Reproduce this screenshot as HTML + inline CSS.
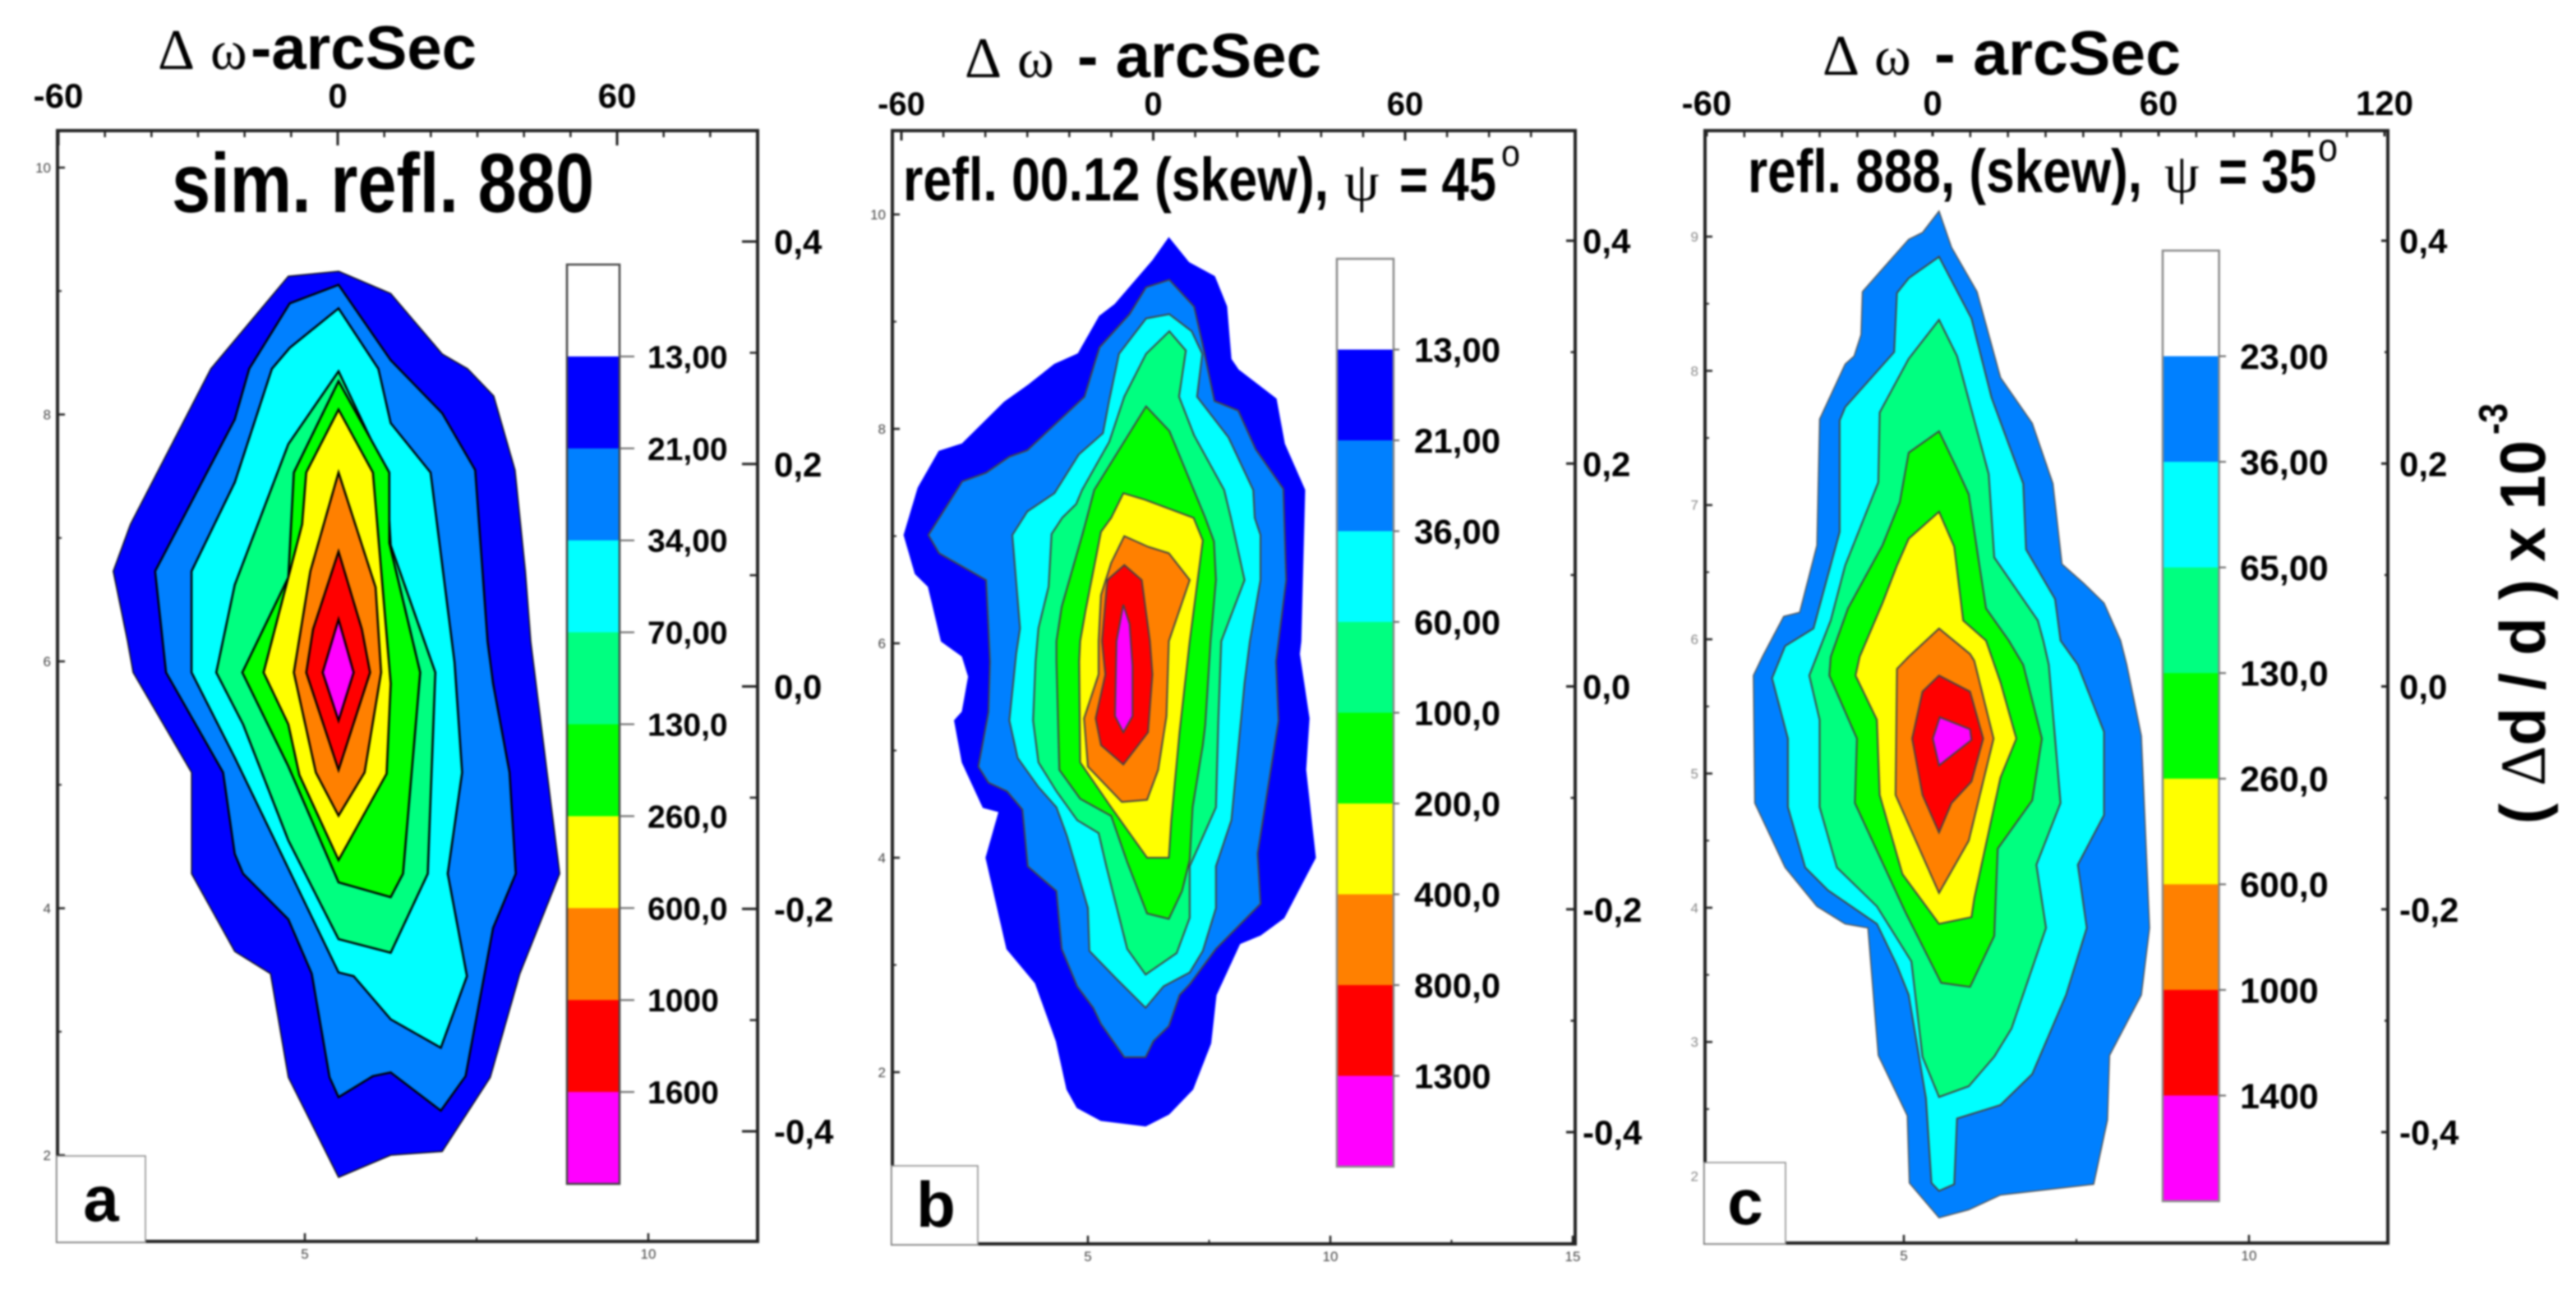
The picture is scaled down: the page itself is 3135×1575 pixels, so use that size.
<!DOCTYPE html>
<html lang="en">
<head>
<meta charset="utf-8">
<title>Reciprocal space contour maps</title>
<style>
  html, body { margin: 0; padding: 0; background: #ffffff; }
  #figure { display: block; width: 3135px; height: 1575px; filter: blur(1px); }
  .sans { font-family: "Liberation Sans", sans-serif; font-weight: bold; fill: #000; }
  .serif { font-family: "Liberation Serif", serif; font-weight: normal; fill: #000; }
</style>
</head>
<body>
<svg id="figure" xmlns="http://www.w3.org/2000/svg" width="3135" height="1575" viewBox="0 0 3135 1575">
  <rect x="0" y="0" width="3135" height="1575" fill="#ffffff"/>
  <g id="panel-a"></g>
  <g id="panel-b"></g>
  <g id="panel-c"></g>

  <g>
    <text class="serif" x="192" y="84" font-size="70">Δ</text>
    <text class="serif" x="256" y="84" font-size="68">ω</text>
    <text class="sans" x="305" y="84" font-size="75" textLength="275" lengthAdjust="spacingAndGlyphs">-arcSec</text>
  </g>
  <text class="sans" x="209" y="258" font-size="102" textLength="514" lengthAdjust="spacingAndGlyphs">sim. refl. 880</text>

  <g>
    <text class="serif" x="1174" y="94" font-size="70">Δ</text>
    <text class="serif" x="1238" y="94" font-size="68">ω</text>
    <text class="sans" x="1311" y="94" font-size="76" textLength="297" lengthAdjust="spacingAndGlyphs">- arcSec</text>
  </g>
  <g>
    <text class="sans" x="1099" y="244" font-size="74" textLength="518" lengthAdjust="spacingAndGlyphs">refl. 00.12 (skew),</text>
    <text class="serif" x="1636" y="244" font-size="68">ψ</text>
    <text class="sans" x="1703" y="244" font-size="74" textLength="118" lengthAdjust="spacingAndGlyphs">= 45</text>
    <text class="sans" style="font-weight:normal" x="1827" y="202" font-size="45" textLength="23" lengthAdjust="spacingAndGlyphs">o</text>
  </g>

  <g>
    <text class="serif" x="2218" y="91" font-size="70">Δ</text>
    <text class="serif" x="2281" y="91" font-size="68">ω</text>
    <text class="sans" x="2354" y="91" font-size="76" textLength="300" lengthAdjust="spacingAndGlyphs">- arcSec</text>
  </g>
  <g>
    <text class="sans" x="2127" y="234" font-size="74" textLength="480" lengthAdjust="spacingAndGlyphs">refl. 888, (skew),</text>
    <text class="serif" x="2634" y="234" font-size="68">ψ</text>
    <text class="sans" x="2700" y="234" font-size="74" textLength="119" lengthAdjust="spacingAndGlyphs">= 35</text>
    <text class="sans" style="font-weight:normal" x="2821" y="196" font-size="48" textLength="24" lengthAdjust="spacingAndGlyphs">o</text>
  </g>

  <g>
    <text class="sans" transform="translate(3097,1003) rotate(-90)" font-size="78" textLength="467" lengthAdjust="spacingAndGlyphs">( <tspan font-family="Liberation Serif, serif" font-weight="normal">Δ</tspan>d / d ) x 10</text>
    <text class="sans" transform="translate(3051,529) rotate(-90)" font-size="49" textLength="38" lengthAdjust="spacingAndGlyphs">-3</text>
  </g>
</svg>

<script>
// Shared colour order for contour bands, lowest level first
const bandFills = ['#0000ff', '#0080ff', '#00ffff', '#00ff80', '#00ff00', '#ffff00', '#ff8000', '#ff0000', '#ff00ff'];

// ---------- Panel a: contour outlines as [omega-axis value, left-axis value] ----------
const panelABand13 = [[5.49,9.16],[4.76,9.12],[3.63,8.37],[2.46,7.11],[2.21,6.73],[2.42,6.16],[2.50,5.91],[3.35,5.10],[3.35,4.28],[3.98,3.65],[4.50,3.47],[4.76,2.63],[5.49,1.82],[6.25,2.00],[7.00,2.03],[7.70,2.63],[8.13,3.47],[8.71,4.28],[8.29,6.16],[8.21,6.73],[8.06,7.55],[7.75,8.15],[7.37,8.37],[7.00,8.49],[6.25,8.98]];
const panelABand21 = [[5.49,9.05],[4.78,8.90],[4.19,8.37],[3.98,7.96],[2.82,6.73],[2.98,5.91],[3.81,5.10],[3.98,4.44],[4.10,4.28],[4.76,3.91],[5.10,3.47],[5.36,2.63],[5.49,2.47],[5.99,2.64],[6.25,2.67],[6.98,2.36],[7.34,2.64],[7.74,3.84],[8.07,4.28],[7.98,5.10],[7.74,5.82],[7.66,6.16],[7.48,7.55],[7.00,8.01],[6.25,8.44]];
const panelABand34 = [[5.49,8.86],[4.78,8.54],[4.52,8.37],[3.98,7.45],[3.35,6.73],[3.35,5.91],[3.98,5.22],[5.49,3.48],[5.71,3.45],[6.25,3.10],[6.98,2.87],[7.36,3.45],[7.08,4.28],[7.29,5.10],[7.18,5.99],[6.83,7.53],[6.25,7.93],[6.07,8.37]];
const panelABand70 = [[5.49,8.35],[4.76,7.76],[3.98,6.62],[3.71,5.91],[4.10,5.49],[4.76,4.55],[5.49,3.75],[6.25,3.64],[6.79,4.28],[6.90,5.91],[6.25,6.94],[6.19,7.53]];
const panelABand130 = [[5.49,8.27],[4.84,7.53],[4.76,6.68],[4.09,5.91],[4.76,5.15],[5.49,4.21],[6.25,4.09],[6.43,4.28],[6.68,5.91],[6.23,6.96],[6.23,7.53]];
const panelABand260 = [[5.49,8.04],[5.02,7.53],[4.96,7.11],[4.40,5.91],[4.76,5.49],[4.92,5.08],[5.49,4.39],[6.19,5.09],[6.25,5.82],[5.99,7.53]];
const panelABand600 = [[5.49,7.53],[5.08,6.73],[4.84,5.91],[5.16,5.10],[5.49,4.75],[5.87,5.10],[6.11,5.91],[6.03,6.60]];
const panelABand1000 = [[5.49,6.89],[5.12,6.26],[5.02,5.91],[5.49,5.12],[5.95,5.91],[5.83,6.26]];
const panelABand1600 = [[5.49,6.34],[5.26,5.91],[5.49,5.52],[5.71,5.91]];
const panelABandList = [panelABand13, panelABand21, panelABand34, panelABand70, panelABand130, panelABand260, panelABand600, panelABand1000, panelABand1600];
const panelALevelLabels = ['13,00', '21,00', '34,00', '70,00', '130,0', '260,0', '600,0', '1000', '1600'];

// ---------- Panel b ----------
const panelBBand13 = [[6.67,9.78],[6.34,9.57],[5.56,9.16],[5.24,9.05],[4.80,8.70],[4.31,8.60],[3.75,8.40],[3.28,8.25],[2.41,7.86],[1.93,7.79],[1.50,7.45],[1.21,7.01],[1.44,6.65],[1.71,6.53],[1.98,6.02],[2.41,5.88],[2.54,5.69],[2.41,5.36],[2.25,5.28],[2.41,4.89],[2.84,4.47],[3.17,4.43],[2.90,4.00],[3.33,3.15],[3.92,2.83],[4.35,2.29],[4.57,1.84],[4.78,1.67],[5.27,1.55],[6.19,1.50],[6.67,1.61],[7.16,1.84],[7.53,2.27],[7.64,2.72],[8.13,3.20],[8.56,3.28],[9.04,3.44],[9.47,3.81],[9.69,4.00],[9.49,4.82],[9.56,5.30],[9.36,5.90],[9.39,6.02],[9.47,7.43],[9.05,7.86],[8.88,8.28],[8.10,8.55],[7.95,8.65],[7.86,9.14],[7.61,9.42],[7.08,9.55]];
const panelBBand21 = [[6.68,9.39],[6.20,9.32],[5.86,9.07],[5.24,8.76],[5.13,8.60],[4.93,8.30],[3.75,7.80],[3.38,7.74],[2.90,7.59],[2.41,7.51],[1.71,7.01],[1.93,6.84],[2.90,6.59],[2.95,6.14],[2.98,5.83],[2.95,5.36],[2.74,4.85],[2.95,4.70],[3.33,4.62],[3.65,4.45],[3.76,3.92],[4.35,3.69],[4.46,3.15],[4.78,2.80],[5.11,2.60],[5.27,2.45],[5.75,2.14],[6.19,2.14],[6.35,2.29],[6.67,2.43],[6.89,2.72],[7.10,2.82],[7.64,3.15],[8.56,3.57],[8.50,4.04],[8.93,5.28],[8.88,5.83],[9.09,6.59],[9.03,7.44],[8.46,7.81],[8.10,8.17],[7.61,8.26],[7.36,8.80],[7.19,9.14]];
const panelBBand36 = [[6.68,9.07],[6.20,9.03],[5.64,8.70],[5.44,8.27],[5.31,7.96],[4.81,7.76],[4.31,7.40],[3.75,7.23],[3.44,7.01],[3.60,6.14],[3.52,5.90],[3.38,5.28],[3.55,4.93],[3.98,4.66],[4.35,4.47],[4.57,4.20],[5.00,3.53],[5.03,3.13],[5.59,2.87],[6.19,2.60],[6.56,2.80],[7.10,2.93],[7.37,3.13],[7.64,3.53],[7.64,3.92],[7.96,4.35],[8.23,5.63],[8.34,6.02],[8.56,6.59],[8.56,7.01],[8.44,7.17],[8.41,7.43],[7.90,7.92],[7.25,8.30],[7.36,8.70],[7.14,8.91]];
const panelBBand60 = [[6.68,8.91],[6.20,8.70],[5.75,8.30],[5.44,7.88],[4.88,7.43],[4.76,7.30],[4.47,7.17],[4.25,7.02],[4.19,6.53],[3.98,6.14],[3.92,5.83],[3.87,5.28],[3.98,4.89],[4.35,4.62],[4.78,4.35],[5.22,4.23],[5.38,3.92],[5.81,3.15],[6.19,2.91],[6.83,3.11],[7.10,3.44],[7.10,3.92],[7.64,4.47],[7.69,5.28],[7.75,6.02],[8.23,6.59],[7.95,7.17],[7.81,7.43],[7.19,7.94],[6.88,8.30],[7.02,8.73]];
const panelBBand100 = [[6.20,8.21],[5.13,7.43],[4.98,7.17],[4.89,7.02],[4.46,6.34],[4.35,6.02],[4.35,5.83],[4.41,4.82],[4.84,4.55],[5.48,4.39],[5.81,3.96],[6.22,3.48],[6.67,3.43],[6.94,3.69],[7.10,3.98],[7.16,4.47],[7.37,5.05],[7.42,5.24],[7.53,6.02],[7.64,6.59],[7.60,6.95],[7.42,7.17],[6.68,7.98]];
const panelBBand200 = [[5.73,7.40],[5.48,7.17],[5.27,7.04],[4.95,6.30],[4.84,6.02],[4.82,5.83],[4.84,4.89],[5.48,4.47],[6.22,4.00],[6.67,4.00],[6.72,4.35],[6.89,5.17],[7.10,6.02],[7.37,6.96],[7.18,7.17],[6.17,7.34]];
const panelBBand400 = [[5.75,7.00],[5.48,6.75],[5.27,6.45],[5.22,6.02],[5.22,5.71],[4.92,5.30],[5.00,4.85],[5.70,4.52],[6.22,4.54],[6.45,4.82],[6.62,5.32],[6.67,6.02],[7.10,6.59],[6.67,6.84],[6.24,6.90]];
const panelBBand800 = [[5.75,6.73],[5.40,6.59],[5.29,6.02],[5.36,5.71],[5.16,5.30],[5.27,5.05],[5.73,4.87],[6.24,5.17],[6.33,5.71],[6.28,6.02],[6.11,6.59]];
const panelBBand1300 = [[5.73,6.36],[5.59,6.02],[5.56,5.32],[5.73,5.17],[5.92,5.32],[5.92,5.79],[5.86,6.18]];
const panelBBandList = [panelBBand13, panelBBand21, panelBBand36, panelBBand60, panelBBand100, panelBBand200, panelBBand400, panelBBand800, panelBBand1300];
const panelBLevelLabels = ['13,00', '21,00', '36,00', '60,00', '100,0', '200,0', '400,0', '800,0', '1300'];

// ---------- Panel c ----------
const panelCBand23 = [[5.51,9.19],[5.27,9.03],[5.07,8.98],[4.40,8.59],[4.38,8.27],[4.28,8.11],[4.15,8.05],[3.78,7.64],[3.74,6.70],[3.49,6.20],[3.26,6.17],[2.95,5.87],[2.82,5.73],[2.84,4.78],[3.28,4.30],[3.74,4.01],[4.15,3.88],[4.48,3.85],[4.63,2.90],[5.05,2.45],[5.08,1.95],[5.51,1.69],[5.94,1.75],[6.40,1.86],[7.75,1.94],[7.95,2.42],[7.98,2.90],[8.44,3.35],[8.56,3.85],[8.44,5.28],[8.23,5.81],[8.14,5.99],[7.90,6.27],[7.60,6.42],[7.29,6.56],[7.16,7.16],[6.86,7.61],[6.40,7.95],[6.06,8.59],[5.69,8.92]];
const panelCBand36 = [[5.51,8.85],[5.07,8.69],[4.90,8.58],[4.86,8.14],[4.15,7.73],[4.07,7.63],[4.07,6.80],[3.69,6.08],[3.28,5.95],[3.09,5.71],[3.32,5.26],[3.32,4.75],[3.57,4.30],[3.90,4.13],[4.61,3.88],[4.90,3.57],[5.07,3.35],[5.32,2.58],[5.40,1.95],[5.51,1.89],[5.73,1.94],[5.77,2.43],[6.40,2.53],[6.86,2.76],[7.35,3.35],[7.65,3.85],[7.52,4.32],[7.90,4.69],[7.90,5.31],[7.52,5.81],[7.27,5.99],[7.19,6.30],[6.77,6.67],[6.73,7.16],[6.27,7.80],[5.98,8.39]];
const panelCBand65 = [[5.51,8.38],[5.07,8.09],[4.65,7.69],[4.63,7.17],[4.15,6.55],[3.94,6.14],[3.63,5.73],[3.78,5.40],[3.78,4.75],[4.03,4.30],[4.61,4.01],[5.11,3.60],[5.27,2.89],[5.51,2.59],[5.94,2.67],[6.31,2.89],[6.56,3.10],[7.06,3.85],[6.92,4.32],[7.27,4.78],[7.10,5.81],[7.02,5.99],[6.94,6.14],[6.31,6.61],[6.23,7.23],[5.77,8.11]];
const panelCBand130 = [[5.51,7.55],[5.07,7.39],[4.94,7.02],[4.69,6.70],[4.19,6.23],[3.94,5.87],[3.92,5.73],[4.32,5.26],[4.29,4.78],[5.02,3.97],[5.54,3.44],[5.96,3.41],[6.31,3.79],[6.36,4.44],[6.86,4.80],[7.00,5.26],[6.73,5.81],[6.52,5.99],[6.19,6.23],[6.06,6.67],[5.94,7.08],[5.77,7.27]];
const panelCBand260 = [[5.51,6.95],[5.07,6.75],[4.90,6.55],[4.69,6.27],[4.36,5.87],[4.30,5.73],[4.61,5.40],[4.65,4.84],[4.98,4.25],[5.51,3.88],[5.98,3.93],[6.02,4.07],[6.40,4.97],[6.63,5.26],[6.40,5.68],[6.19,5.99],[5.86,6.14],[5.73,6.69]];
const panelCBand600 = [[5.51,6.08],[5.07,5.87],[4.90,5.78],[4.88,4.84],[5.51,4.11],[5.94,4.50],[6.30,5.26],[6.02,5.84],[5.96,5.89]];
const panelCBand1000 = [[5.51,5.73],[5.27,5.61],[5.12,5.26],[5.27,4.84],[5.51,4.56],[5.69,4.78],[5.98,4.94],[6.15,5.26],[5.96,5.61]];
const panelCBand1400 = [[5.52,5.42],[5.42,5.26],[5.51,5.06],[5.98,5.25],[5.96,5.33]];
const panelCBandList = [panelCBand23, panelCBand36, panelCBand65, panelCBand130, panelCBand260, panelCBand600, panelCBand1000, panelCBand1400];
const panelCLevelLabels = ['23,00', '36,00', '65,00', '130,0', '260,0', '600,0', '1000', '1400'];

// ---------- Axis tick values and labels ----------
const topMajorABValues = [-60, 0, 60];
const topMajorCValues = [-60, 0, 60, 120];
const topMajorABLabels = ['-60', '0', '60'];
const topMajorCLabels = ['-60', '0', '60', '120'];
const topMinorValues = [-50, -40, -30, -20, -10, 10, 20, 30, 40, 50, 70, 80, 90, 100, 110];
const rightMajorValues = [0.4, 0.2, 0, -0.2, -0.4];
const rightMajorLabels = ['0,4', '0,2', '0,0', '-0,2', '-0,4'];
const rightMinorValues = [0.3, 0.1, -0.1, -0.3];
const leftMajorABValues = [2, 4, 6, 8, 10];
const leftMinorABValues = [3, 5, 7, 9];
const leftMajorCValues = [2, 3, 4, 5, 6, 7, 8, 9];
const leftMinorCValues = [2.5, 3.5, 4.5, 5.5, 6.5, 7.5, 8.5];
const bottomMajorACValues = [5, 10];
const bottomMinorACValues = [7.5];
const bottomMajorBValues = [5, 10, 15];
const bottomMinorBValues = [7.5, 12.5];

function linearAxis(d0, p0, d1, p1) {
  const k = (p1 - p0) / (d1 - d0);
  return function (v) { return p0 + (v - d0) * k; };
}

function svgEl(parent, tag, attrs, text) {
  const el = document.createElementNS('http://www.w3.org/2000/svg', tag);
  for (const key in attrs) { el.setAttribute(key, attrs[key]); }
  if (text !== undefined) { el.textContent = text; }
  parent.appendChild(el);
  return el;
}

function drawPanel(cfg) {
  const root = document.getElementById(cfg.id);
  const f = cfg.frame;
  const sx = linearAxis(cfg.x[0], cfg.x[1], cfg.x[2], cfg.x[3]);
  const sy = linearAxis(cfg.y[0], cfg.y[1], cfg.y[2], cfg.y[3]);
  const st = linearAxis(cfg.top[0], cfg.top[1], cfg.top[2], cfg.top[3]);
  const sr = linearAxis(cfg.right[0], cfg.right[1], cfg.right[2], cfg.right[3]);
  let el;

  // contour bands
  cfg.bands.forEach(function (band, i) {
    const pts = band.map(function (p) { return sx(p[0]).toFixed(1) + ',' + sy(p[1]).toFixed(1); }).join(' ');
    const el = svgEl(root, 'polygon', {
      points: pts,
      fill: cfg.fills[i],
      stroke: i === 0 ? cfg.outerStroke : cfg.lineStroke,
      'stroke-width': i === 0 ? 1.5 : cfg.lineWidth,
      'stroke-linejoin': 'miter'
    });
    
    
  });

  // colour bar
  const cells = cfg.labels.length + 1;
  const cellH = (cfg.bar.b - cfg.bar.t) / cells;
  const cellFills = ['#ffffff'].concat(cfg.fills);
  cellFills.forEach(function (fill, i) {
    const el = svgEl(root, 'rect', {
      x: cfg.bar.l, y: cfg.bar.t + i * cellH,
      width: cfg.bar.r - cfg.bar.l, height: cellH + 0.5, fill: fill
    });
    
    
  });
  el = svgEl(root, 'rect', {
    x: cfg.bar.l, y: cfg.bar.t, width: cfg.bar.r - cfg.bar.l, height: cfg.bar.b - cfg.bar.t,
    fill: 'none', stroke: cfg.barStroke, 'stroke-width': 2.5
  });
  
  
  cfg.labels.forEach(function (label, i) {
    const y = cfg.bar.t + (i + 1) * cellH;
    const tick = svgEl(root, 'line', {
      x1: cfg.bar.r, x2: cfg.bar.tickEnd, y1: y, y2: y, stroke: '#666', 'stroke-width': 2
    });
    
    
    const t = svgEl(root, 'text', {
      x: cfg.bar.textX, y: y + cfg.barFont * 0.358, 'font-size': cfg.barFont, 'class': 'sans'
    }, label);
    
    
  });

  // frame
  el = svgEl(root, 'rect', {
    x: f.l, y: f.t, width: f.r - f.l, height: f.b - f.t,
    fill: 'none', stroke: '#222', 'stroke-width': 4
  });
  
  

  function tickLine(x1, y1, x2, y2, w, name) {
    const t = svgEl(root, 'line', { x1: x1, y1: y1, x2: x2, y2: y2, stroke: '#222', 'stroke-width': w });
    
    
  }

  // top axis
  cfg.topMajor.forEach(function (v, i) {
    tickLine(st(v), f.t, st(v), f.t + cfg.topLong, 3, 'top-axis-tick');
    const t = svgEl(root, 'text', {
      x: st(v), y: cfg.topLabelY, 'font-size': cfg.topFont, 'text-anchor': 'middle', 'class': 'sans'
    }, cfg.topLabels[i]);
    
    
  });
  topMinorValues.forEach(function (v) {
    if (st(v) < f.r - 8) { tickLine(st(v), f.t, st(v), f.t + 8, 2.5, 'top-axis-minor-tick'); }
  });

  // right axis
  rightMajorValues.forEach(function (v, i) {
    tickLine(f.r - cfg.rightLong, sr(v), f.r, sr(v), 3, 'right-axis-tick');
    const t = svgEl(root, 'text', {
      x: cfg.rightLabelX, y: sr(v) + 15, 'font-size': 42, 'class': 'sans'
    }, rightMajorLabels[i]);
    
    
  });
  rightMinorValues.forEach(function (v) {
    tickLine(f.r - cfg.rightLong * 0.5, sr(v), f.r, sr(v), 2.5, 'right-axis-minor-tick');
  });

  // left axis
  cfg.leftMajor.forEach(function (v) {
    tickLine(f.l, sy(v), f.l + 9, sy(v), 2.5, 'left-axis-tick');
    const t = svgEl(root, 'text', {
      x: f.l - 8, y: sy(v) + 6, 'font-size': 17, 'text-anchor': 'end',
      'font-family': '"Liberation Sans", sans-serif', fill: cfg.leftInk
    }, String(v));
    
    
  });
  cfg.leftMinor.forEach(function (v) {
    tickLine(f.l, sy(v), f.l + 5, sy(v), 2, 'left-axis-minor-tick');
  });

  // bottom axis
  cfg.bottomMajor.forEach(function (v) {
    tickLine(sx(v), f.b - 10, sx(v), f.b, 2.5, 'bottom-axis-tick');
    const t = svgEl(root, 'text', {
      x: sx(v), y: f.b + 21, 'font-size': 17, 'text-anchor': 'middle',
      'font-family': '"Liberation Sans", sans-serif', fill: '#444'
    }, String(v));
    
    
  });
  cfg.bottomMinor.forEach(function (v) {
    tickLine(sx(v), f.b - 5, sx(v), f.b, 2, 'bottom-axis-minor-tick');
  });

  // panel letter box
  el = svgEl(root, 'rect', {
    x: f.l - 1, y: cfg.letter.top, width: cfg.letter.right - f.l + 1, height: f.b - cfg.letter.top + 1,
    fill: '#ffffff', stroke: '#888', 'stroke-width': 1.5
  });
  
  
  el = svgEl(root, 'text', {
    x: cfg.letter.cx, y: cfg.letter.base, 'font-size': 78, 'text-anchor': 'middle', 'class': 'sans'
  }, cfg.letter.text);
  
  
}

drawPanel({
  id: 'panel-a',
  frame: { l: 70, t: 159, r: 922, b: 1511 },
  x: [5, 371, 10, 789],
  y: [2, 1406, 10, 204],
  top: [0, 411, 60, 751],
  right: [0.4, 294, -0.4, 1377],
  bands: panelABandList,
  fills: bandFills,
  labels: panelALevelLabels,
  outerStroke: '#111', lineStroke: '#000', lineWidth: 2.5,
  bar: { l: 690, r: 754, t: 322, b: 1441, tickEnd: 772, textX: 788 },
  barFont: 39, barStroke: '#444',
  topMajor: topMajorABValues, topLabels: topMajorABLabels, topLabelY: 131, topFont: 42, topLong: 18,
  rightLong: 19, rightLabelX: 942,
  leftMajor: leftMajorABValues, leftMinor: leftMinorABValues, leftInk: '#444',
  bottomMajor: bottomMajorACValues, bottomMinor: bottomMinorACValues,
  letter: { top: 1407, right: 177, cx: 123, base: 1486, text: 'a' }
});

drawPanel({
  id: 'panel-b',
  frame: { l: 1086, t: 159, r: 1917, b: 1514 },
  x: [5, 1324, 10, 1619],
  y: [2, 1305, 10, 261],
  top: [0, 1403.5, 60, 1710],
  right: [0.4, 293, -0.4, 1378],
  bands: panelBBandList,
  fills: bandFills,
  labels: panelBLevelLabels,
  outerStroke: '#0000ff', lineStroke: '#444', lineWidth: 2,
  bar: { l: 1627, r: 1696, t: 315, b: 1420, tickEnd: 1703, textX: 1721 },
  barFont: 42, barStroke: '#888',
  topMajor: topMajorABValues, topLabels: topMajorABLabels, topLabelY: 140, topFont: 40, topLong: 12,
  rightLong: 11, rightLabelX: 1926,
  leftMajor: leftMajorABValues, leftMinor: leftMinorABValues, leftInk: '#444',
  bottomMajor: bottomMajorBValues, bottomMinor: bottomMinorBValues,
  letter: { top: 1419, right: 1190, cx: 1139, base: 1493, text: 'b' }
});

drawPanel({
  id: 'panel-c',
  frame: { l: 2075, t: 159, r: 2906, b: 1513 },
  x: [5, 2317, 10, 2737],
  y: [2, 1431.6, 9, 288],
  top: [0, 2352, 60, 2627],
  right: [0.4, 293, -0.4, 1378],
  bands: panelCBandList,
  fills: bandFills.slice(1),
  labels: panelCLevelLabels,
  outerStroke: '#555', lineStroke: '#444', lineWidth: 2,
  bar: { l: 2632, r: 2700.6, t: 305, b: 1462, tickEnd: 2709, textX: 2726 },
  barFont: 43, barStroke: '#888',
  topMajor: topMajorCValues, topLabels: topMajorCLabels, topLabelY: 140, topFont: 42, topLong: 7,
  rightLong: 8, rightLabelX: 2920,
  leftMajor: leftMajorCValues, leftMinor: leftMinorCValues, leftInk: '#888',
  bottomMajor: bottomMajorACValues, bottomMinor: bottomMinorACValues,
  letter: { top: 1415, right: 2173, cx: 2124, base: 1490, text: 'c' }
});
</script>
</body>
</html>
